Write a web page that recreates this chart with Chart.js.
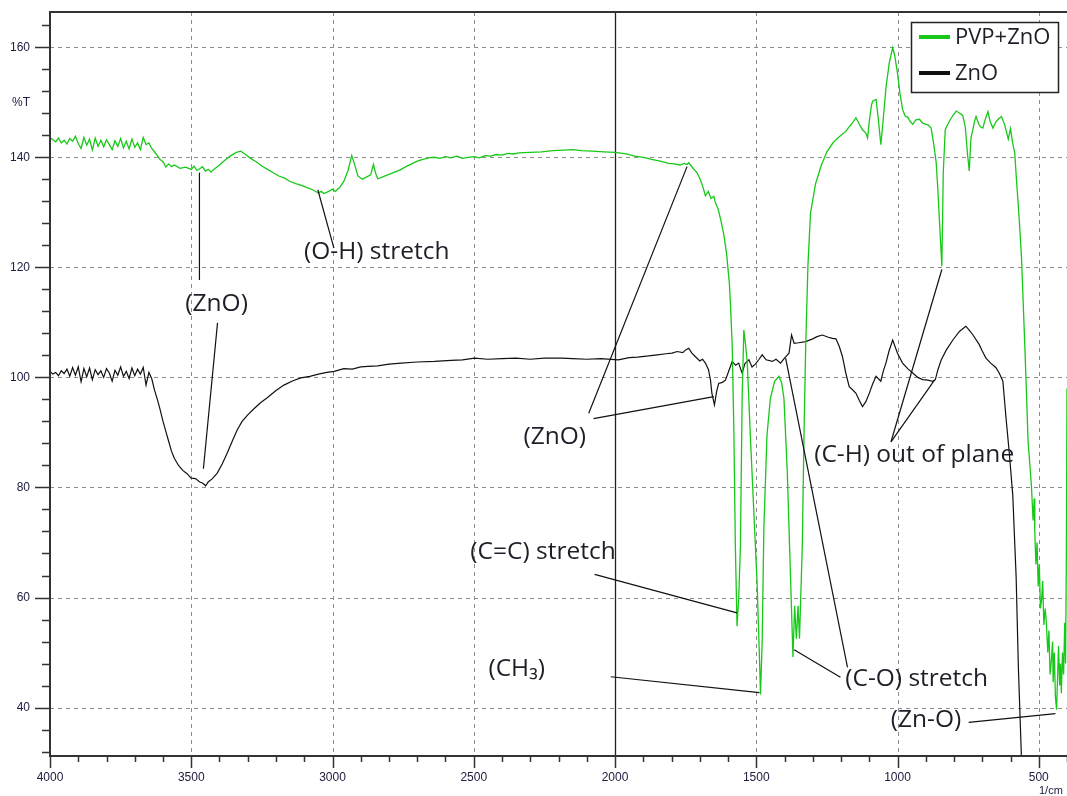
<!DOCTYPE html>
<html><head><meta charset="utf-8">
<script src="https://cdn.jsdelivr.net/npm/chart.js@4.4.1/dist/chart.umd.min.js"></script>
<style>html,body{margin:0;padding:0;background:#fff;}canvas{display:block;}</style>
</head><body>
<canvas id="c" width="1067" height="796"></canvas>
<script>
// ---- data (wavenumber cm-1, %T) ----
const seriesNames = ['PVP+ZnO', 'ZnO'];
const xTickLabels = [4000, 3500, 3000, 2500, 2000, 1500, 1000, 500];
const yTickLabels = [40, 60, 80, 100, 120, 140, 160];

const pvpZnoPoints = [
[4000,143.6],[3990,143.2],[3980,142.8],[3970,143.5],[3960,142.6],[3950,143.1],[3940,142.4],[3930,143.4],[3920,142.9],[3910,143.8],
[3900,142.5],[3890,141.6],[3880,143.6],[3870,142.2],[3860,143.3],[3850,141.3],[3840,143.5],[3830,142.0],[3820,143.1],[3810,141.9],
[3800,143.2],[3790,142.3],[3780,141.4],[3770,143.0],[3760,142.0],[3750,143.4],[3740,141.7],[3730,142.9],[3720,141.5],[3710,143.3],
[3700,141.8],[3690,142.6],[3680,141.4],[3670,143.6],[3660,142.3],[3650,142.6],[3640,141.6],[3630,141.0],[3620,140.3],[3610,139.6],
[3600,139.2],[3590,138.2],[3580,138.8],[3570,138.3],[3560,138.6],[3540,138.0],[3520,138.2],[3500,137.8],[3490,138.4],[3480,137.6],
[3470,137.9],[3460,138.3],[3450,137.5],[3440,137.8],[3430,137.3],[3420,137.8],[3410,138.2],[3400,138.6],[3380,139.5],[3360,140.3],
[3340,140.9],[3325,141.1],[3310,140.6],[3290,139.8],[3270,139.2],[3250,138.4],[3230,137.8],[3210,137.2],[3190,136.6],[3170,136.2],
[3150,135.6],[3130,135.2],[3110,134.9],[3090,134.5],[3070,134.1],[3050,133.5],[3040,133.8],[3030,133.4],[3010,133.9],[3000,134.2],
[2990,133.8],[2975,134.5],[2960,135.6],[2945,137.6],[2932,140.3],[2920,138.4],[2910,136.6],[2895,136.0],[2880,136.4],[2865,136.8],
[2855,138.7],[2848,137.2],[2840,136.1],[2820,136.5],[2800,136.9],[2780,137.3],[2760,137.7],[2740,138.3],[2720,138.8],[2700,139.3],
[2680,139.6],[2660,139.9],[2640,140.0],[2620,139.8],[2600,140.1],[2580,139.9],[2560,140.2],[2540,139.8],[2520,140.0],[2500,140.1],
[2480,139.9],[2460,140.3],[2440,140.2],[2420,140.5],[2400,140.4],[2380,140.7],[2360,140.6],[2340,140.8],[2300,140.9],[2260,141.0],
[2220,141.2],[2180,141.3],[2150,141.4],[2120,141.2],[2080,141.1],[2040,141.0],[2000,140.9],[1960,140.6],[1930,140.2],[1900,140.0],
[1870,139.6],[1840,139.3],[1810,138.9],[1790,138.8],[1770,138.6],[1755,138.9],[1745,138.7],[1739,139.0],[1725,138.1],[1710,137.2],
[1700,136.2],[1690,134.8],[1680,133.0],[1670,133.8],[1660,132.5],[1650,132.9],[1645,131.8],[1635,130.6],[1625,128.5],[1615,126.0],
[1605,122.5],[1595,117.0],[1591,113.0],[1585,105.6],[1579,89.5],[1574,69.3],[1568,54.8],[1562,60.0],[1556,69.3],[1550,96.2],
[1544,108.6],[1538,106.0],[1532,102.9],[1521,89.5],[1509,76.1],[1497,62.6],[1488,48.0],[1485,42.4],[1479,52.0],[1473,72.7],
[1462,89.5],[1450,96.2],[1435,99.3],[1420,100.2],[1410,99.0],[1402,96.2],[1390,82.7],[1378,62.6],[1370,49.2],[1364,58.5],
[1358,52.5],[1352,58.5],[1347,52.5],[1337,69.3],[1331,89.5],[1325,105.6],[1317,120.4],[1308,129.8],[1290,135.2],[1270,138.5],
[1250,141.0],[1230,142.5],[1218,143.2],[1200,144.0],[1183,144.7],[1170,145.6],[1160,146.2],[1147,147.2],[1135,146.0],[1124,145.0],
[1112,144.4],[1106,143.5],[1100,146.5],[1092,149.5],[1088,150.2],[1076,150.5],[1068,147.0],[1059,142.3],[1053,145.5],[1047,149.0],
[1040,153.0],[1029,157.2],[1017,159.9],[1010,158.5],[1000,155.3],[991,151.5],[982,148.7],[973,147.5],[964,147.3],[955,146.5],
[946,146.0],[935,146.8],[922,146.9],[911,146.2],[899,146.0],[890,145.8],[881,145.3],[872,142.5],[863,139.0],[857,134.0],
[851,128.0],[843,120.2],[838,137.2],[831,145.0],[822,146.0],[816,146.6],[805,147.5],[792,148.4],[780,148.0],[769,147.6],
[760,145.5],[752,140.5],[746,137.5],[740,143.5],[734,144.9],[727,146.6],[722,147.4],[712,146.0],[705,145.5],[698,145.3],
[690,146.8],[680,148.3],[672,146.5],[662,145.3],[652,146.4],[642,147.0],[632,147.4],[620,145.8],[608,143.3],[600,145.2],
[592,142.5],[585,140.8],[579,136.0],[573,131.7],[567,127.0],[561,121.7],[555,113.5],[549,105.2],[543,96.5],[538,88.6],
[532,84.5],[526,80.3],[520,74.0],[516,78.0],[514,72.0],[510,66.0],[506,70.0],[502,62.0],[498,66.0],[494,58.0],
[490,59.5],[486,63.0],[482,55.0],[477,58.0],[473,55.4],[468,50.0],[464,54.0],[460,46.0],[455,48.7],[451,52.0],
[449,44.6],[445,50.0],[441,42.0],[437,39.6],[433,46.0],[430,51.2],[426,44.0],[423,48.0],[420,42.6],[416,50.0],
[412,46.0],[408,55.4],[405,48.0],[402,70.0],[400,98.0]
];

const znoPoints = [
[4000,101.1],[3990,100.6],[3980,100.9],[3970,100.3],[3960,101.2],[3950,100.7],[3940,101.5],[3930,100.2],[3920,101.8],[3910,100.4],
[3900,101.9],[3890,99.2],[3880,101.6],[3870,100.1],[3860,101.7],[3850,99.6],[3840,101.4],[3830,100.5],[3820,101.2],[3810,100.0],
[3800,101.6],[3790,100.8],[3780,99.3],[3770,101.3],[3760,100.4],[3750,101.9],[3740,100.2],[3730,101.1],[3720,99.8],[3710,101.7],
[3700,100.3],[3690,101.5],[3680,100.6],[3670,101.8],[3660,98.6],[3650,100.9],[3640,99.8],[3630,97.7],[3620,96.0],[3610,94.1],
[3600,92.0],[3590,90.2],[3580,88.4],[3570,86.6],[3560,85.3],[3545,84.0],[3530,83.1],[3515,82.5],[3500,81.7],[3485,81.6],
[3470,81.0],[3460,80.8],[3449,80.3],[3440,81.0],[3425,81.6],[3408,82.6],[3390,84.3],[3373,86.2],[3355,88.4],[3337,90.5],
[3320,92.0],[3300,93.2],[3278,94.3],[3255,95.4],[3231,96.3],[3200,97.6],[3172,98.6],[3140,99.4],[3112,99.9],[3080,100.2],
[3050,100.6],[3020,100.9],[2994,101.1],[2960,101.6],[2930,101.5],[2900,101.9],[2875,102.0],[2840,102.1],[2800,102.4],[2757,102.6],
[2700,102.8],[2639,102.9],[2580,103.1],[2540,103.2],[2497,103.5],[2450,103.3],[2400,103.4],[2350,103.5],[2300,103.3],[2250,103.5],
[2189,103.5],[2150,103.4],[2100,103.3],[2050,103.4],[1988,103.2],[1950,103.6],[1920,103.7],[1881,103.9],[1850,104.1],[1820,104.3],
[1798,104.4],[1780,104.7],[1760,104.5],[1750,105.0],[1739,105.3],[1728,104.4],[1716,103.8],[1700,103.0],[1690,103.3],[1680,102.6],
[1669,101.4],[1662,99.5],[1657,97.1],[1648,95.0],[1640,97.5],[1633,98.9],[1620,99.1],[1609,99.5],[1597,101.2],[1585,102.9],
[1573,102.2],[1562,102.6],[1555,101.5],[1550,100.8],[1540,102.5],[1526,103.2],[1515,101.9],[1503,102.4],[1490,103.3],[1479,104.1],
[1465,103.2],[1443,102.9],[1430,103.3],[1414,102.6],[1400,103.5],[1384,104.4],[1375,107.7],[1366,106.2],[1350,106.3],[1325,106.5],
[1300,107.0],[1285,107.4],[1266,107.7],[1245,107.3],[1230,107.1],[1218,107.0],[1206,105.6],[1195,103.8],[1183,100.8],[1171,98.3],
[1160,97.8],[1147,97.1],[1135,95.8],[1124,94.7],[1112,95.6],[1100,97.1],[1088,98.8],[1076,100.2],[1059,99.3],[1050,101.2],
[1041,102.6],[1030,104.8],[1017,106.8],[1000,104.4],[982,102.6],[964,101.6],[946,100.8],[928,100.0],[911,99.6],[893,99.5],
[875,99.3],[866,99.6],[857,101.4],[845,103.2],[827,105.0],[804,106.8],[780,108.4],[758,109.3],[746,108.6],[734,107.8],
[711,106.0],[700,104.8],[687,103.5],[670,102.6],[652,101.8],[640,100.8],[627,99.3],[616,92.7],[604,86.1],[592,78.6],
[580,63.7],[572,47.1],[561,30.5],[558,25.0]
];

// ---- annotations (in data units: wavenumber, %T) ----
const leaderLines = [
[3471,137.2,3471,117.7],[3407,109.9,3457,83.4],[3052,134.1,2995,123.5],
[1745,138.3,2093,93.5],[2076,92.5,1650,96.5],
[2072,64.2,1568,57.2],[2015,45.6,1489,42.7],
[1396,103.5,1177,47.3],[1366,50.5,1202,45.5],
[1023,88.3,843,119.6],[1023,88.3,869,99.5],
[748,37.3,441,38.9]
];
const annotationLabels = [
['(ZnO)',3521,113.4],['(O-H) stretch',3101,122.7],['(ZnO)',2324,89.2],
['(C-H) out of plane',1295,85.9],['(C=C) stretch',2512,68.3],['(CH\u2083)',2448,47.0],
['(C-O) stretch',1185,45.1],['(Zn-O)',1024,37.8]
];
const markerLineAt = 2000;
const minorXStep = 100, minorYStep = 4;

const seriesColors = ['#18c818', '#111111'];

const decor = {
  id: 'decor',
  beforeDatasetsDraw(chart) {
    const {ctx, chartArea: a, scales: {x, y}} = chart;
    ctx.save();
    ctx.strokeStyle = '#8c8c8c'; ctx.lineWidth = 1; ctx.setLineDash([4, 4]);
    xTickLabels.forEach(v => {
      if (v === markerLineAt) return;
      const px = Math.round(x.getPixelForValue(v)) + 0.5;
      ctx.beginPath(); ctx.moveTo(px, a.top); ctx.lineTo(px, a.bottom); ctx.stroke();
    });
    yTickLabels.forEach(v => {
      const py = Math.round(y.getPixelForValue(v)) + 0.5;
      ctx.beginPath(); ctx.moveTo(a.left, py); ctx.lineTo(a.right, py); ctx.stroke();
    });
    ctx.setLineDash([]);
    const mx = Math.round(x.getPixelForValue(markerLineAt)) + 0.5;
    ctx.strokeStyle = '#222'; ctx.lineWidth = 1.3;
    ctx.beginPath(); ctx.moveTo(mx, a.top); ctx.lineTo(mx, a.bottom); ctx.stroke();
    ctx.restore();
  },
  afterDatasetsDraw(chart) {
    const {ctx, chartArea: a, scales: {x, y}} = chart;
    ctx.save();
    // frame
    ctx.strokeStyle = '#333'; ctx.lineWidth = 2;
    ctx.beginPath();
    ctx.moveTo(a.right, a.top); ctx.lineTo(a.left, a.top); ctx.lineTo(a.left, a.bottom); ctx.lineTo(a.right, a.bottom);
    ctx.stroke();
    // tick marks
    ctx.lineWidth = 1.5;
    for (let v = 400; v <= 4000; v += minorXStep) {
      const px = Math.round(x.getPixelForValue(v)) + 0.5;
      const major = v % 500 === 0;
      ctx.beginPath(); ctx.moveTo(px, a.bottom); ctx.lineTo(px, a.bottom + (major ? 12 : 6)); ctx.stroke();
    }
    for (let v = 32; v <= 166; v += minorYStep) {
      const py = Math.round(y.getPixelForValue(v)) + 0.5;
      const major = v % 20 === 0;
      ctx.beginPath(); ctx.moveTo(a.left, py); ctx.lineTo(a.left - (major ? 15 : 8), py); ctx.stroke();
    }
    // axis unit texts
    ctx.fillStyle = '#202040';
    ctx.font = '12px "Liberation Sans", Arial, sans-serif';
    ctx.textBaseline = 'middle'; ctx.textAlign = 'left';
    ctx.fillText('%T', 12, 103);
    ctx.font = '11px "Liberation Sans", Arial, sans-serif';
    ctx.fillText('1/cm', 1039, 791);
    // leader lines
    ctx.strokeStyle = '#111'; ctx.lineWidth = 1.2;
    leaderLines.forEach(l => {
      ctx.beginPath();
      ctx.moveTo(x.getPixelForValue(l[0]), y.getPixelForValue(l[1]));
      ctx.lineTo(x.getPixelForValue(l[2]), y.getPixelForValue(l[3]));
      ctx.stroke();
    });
    // annotation labels
    ctx.fillStyle = '#1e1e28';
    ctx.font = '24.5px "Open Sans", "Noto Sans", sans-serif';
    ctx.textBaseline = 'middle'; ctx.textAlign = 'left';
    annotationLabels.forEach(t => {
      ctx.fillText(t[0], x.getPixelForValue(t[1]), y.getPixelForValue(t[2]));
    });
    // legend box
    const bx = 911.5, by = 22.5, bw = 147, bh = 70;
    ctx.fillStyle = '#fff'; ctx.fillRect(bx, by, bw, bh);
    ctx.strokeStyle = '#222'; ctx.lineWidth = 1.5; ctx.strokeRect(bx, by, bw, bh);
    const rows = [37, 73];
    ctx.font = '22px "Open Sans", "Noto Sans", sans-serif';
    chart.data.datasets.forEach((ds, i) => {
      ctx.strokeStyle = ds.borderColor; ctx.lineWidth = 4;
      ctx.beginPath(); ctx.moveTo(919, rows[i]); ctx.lineTo(950, rows[i]); ctx.stroke();
      ctx.fillStyle = '#1e1e28';
      ctx.fillText(ds.label, 955, rows[i] + 1);
    });
    ctx.restore();
  }
};

new Chart(document.getElementById('c').getContext('2d'), {
  type: 'line',
  data: {
    datasets: [
      {label: seriesNames[0], data: pvpZnoPoints.map(p => ({x: p[0], y: p[1]})), borderColor: seriesColors[0], borderWidth: 1.3, pointRadius: 0, tension: 0, fill: false},
      {label: seriesNames[1], data: znoPoints.map(p => ({x: p[0], y: p[1]})), borderColor: seriesColors[1], borderWidth: 1.2, pointRadius: 0, tension: 0, fill: false}
    ]
  },
  options: {
    responsive: false, animation: false, devicePixelRatio: 1,
    parsing: false, normalized: true,
    layout: {autoPadding: false, padding: {top: 12, left: 0, right: 0, bottom: 0}},
    plugins: {legend: {display: false}, tooltip: {enabled: false}},
    scales: {
      x: {
        type: 'linear', reverse: true, min: 400, max: 4000,
        afterBuildTicks: s => { s.ticks = xTickLabels.map(v => ({value: v})); },
        afterFit: s => { s.height = 40; s.paddingLeft = 0; s.paddingRight = 0; },
        grid: {display: false, drawTicks: false}, border: {display: false},
        ticks: {autoSkip: false, maxRotation: 0, padding: 14, color: '#202040',
          font: {family: '"Liberation Sans", Arial, sans-serif', size: 12},
          callback: v => String(v)}
      },
      y: {
        type: 'linear', min: 31.2, max: 166.4,
        afterBuildTicks: s => { s.ticks = yTickLabels.map(v => ({value: v})); },
        afterFit: s => { s.width = 50; s.paddingTop = 0; s.paddingBottom = 0; },
        grid: {display: false, drawTicks: false}, border: {display: false},
        ticks: {padding: 20, color: '#202040',
          font: {family: '"Liberation Sans", Arial, sans-serif', size: 12},
          callback: v => String(v)}
      }
    }
  },
  plugins: [decor]
});
</script>
</body></html>
